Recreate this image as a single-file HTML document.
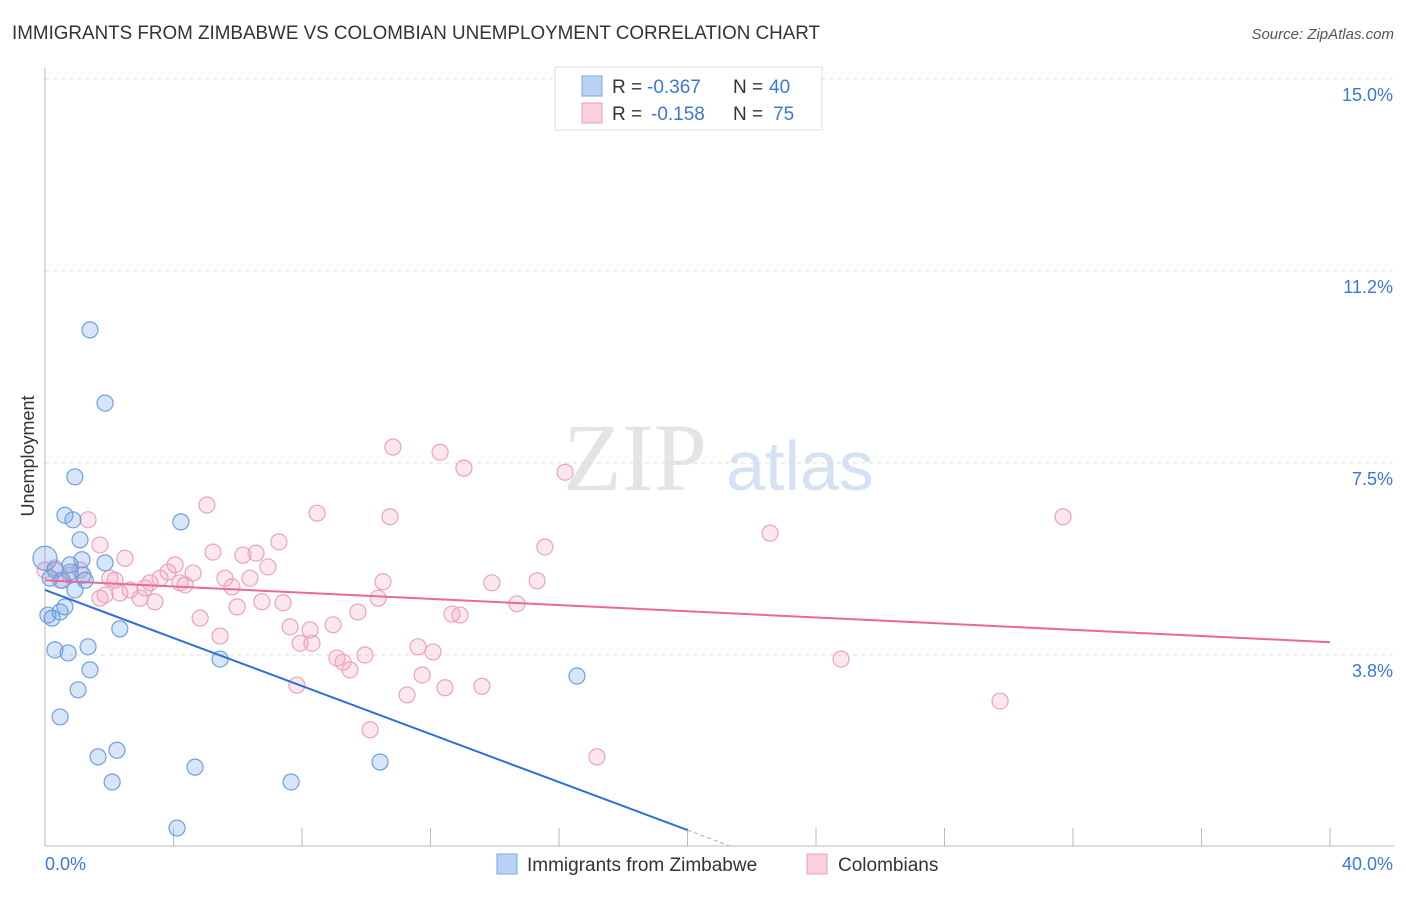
<!DOCTYPE html>
<html><head><meta charset="utf-8"><style>
body{margin:0;background:#fff;font-family:"Liberation Sans",sans-serif}
svg text{font-family:"Liberation Sans",sans-serif}
</style></head><body>
<svg width="1406" height="892" id="c">
<text x="12" y="39" font-size="19" fill="#333" textLength="808" lengthAdjust="spacingAndGlyphs">IMMIGRANTS FROM ZIMBABWE VS COLOMBIAN UNEMPLOYMENT CORRELATION CHART</text>
<text x="1394" y="39" font-size="15" fill="#555" font-style="italic" text-anchor="end">Source: ZipAtlas.com</text>
<text x="635" y="490" font-size="96" fill="#e4e4e4" text-anchor="middle" style="font-family:'Liberation Serif',serif">ZIP</text>
<text x="800" y="490" font-size="70" fill="#d4e2f4" text-anchor="middle">atlas</text>
<text x="34" y="456" font-size="18" fill="#333" text-anchor="middle" transform="rotate(-90 34 456)">Unemployment</text>
<g id="grid"></g><g id="marks"></g>
<g>
<rect x="555" y="67" width="267" height="63" fill="#fff" stroke="#ddd"/>
<rect x="582" y="76" width="20" height="20" fill="#b9d3f5" stroke="#7aa6e0"/>
<rect x="582" y="103" width="20" height="20" fill="#fbd0dd" stroke="#eaa0b8"/>
<text x="612" y="93" font-size="19" fill="#333">R =</text>
<text x="647" y="93" font-size="19" fill="#3a78d8">-0.367</text>
<text x="733" y="93" font-size="19" fill="#333">N =</text>
<text x="769" y="93" font-size="19" fill="#3a78d8">40</text>
<text x="612" y="120" font-size="19" fill="#333">R =</text>
<text x="651" y="120" font-size="19" fill="#3a78d8">-0.158</text>
<text x="733" y="120" font-size="19" fill="#333">N =</text>
<text x="773" y="120" font-size="19" fill="#3a78d8">75</text>
</g>
<g>
<rect x="497" y="854" width="20" height="20" fill="#b9d3f5" stroke="#7aa6e0"/>
<text x="527" y="871" font-size="19" fill="#333">Immigrants from Zimbabwe</text>
<rect x="807" y="854" width="20" height="20" fill="#fbd0dd" stroke="#eaa0b8"/>
<text x="838" y="871" font-size="19" fill="#333">Colombians</text>
</g>
</svg>
<script>
const yTicks=[3.75,7.5,11.25,15];
const yTickLabels=["3.8%","7.5%","11.2%","15.0%"];
const xTicks=[0,4,8,12,16,20,24,28,32,36,40];
const blueX=[0,0.16,0.31,0.09,0.22,0.47,0.62,0.31,0.72,1.40,1.87,0.93,0.62,0.87,1.09,1.15,0.78,1.87,1.25,0.93,1.34,1.40,2.33,1.03,0.47,1.65,2.24,2.09,4.23,5.45,4.67,4.11,7.66,10.43,16.56,0.53,0.78,1.18];
const blueY=[5.64,5.25,5.41,4.53,4.47,4.59,4.69,3.85,3.79,10.10,8.67,7.23,6.48,6.39,6.00,5.61,5.51,5.55,5.21,5.02,3.91,3.46,4.26,3.07,2.54,1.76,1.89,1.27,6.35,3.67,1.56,0.37,1.27,1.66,3.34,5.21,5.37,5.31];
const pinkX=[0,.31,.47,.78,1.09,1.34,1.71,2.02,2.49,1.87,2.33,2.65,2.96,3.11,3.27,3.42,3.58,3.83,4.05,4.20,4.36,4.61,4.83,5.04,5.23,5.45,5.60,5.82,5.98,6.16,6.38,6.57,6.75,6.94,7.28,7.41,7.63,7.84,7.94,8.25,8.31,8.47,8.97,9.09,9.28,9.49,9.74,9.96,10.12,10.37,10.52,10.74,10.83,11.27,11.61,11.74,12.08,12.30,12.45,12.67,12.92,13.04,13.60,13.91,14.69,15.32,15.56,16.19,17.18,22.57,24.78,29.73,31.69,1.71,2.18];
const pinkY=[5.41,5.45,5.21,5.31,5.41,6.39,5.90,5.25,5.64,4.92,4.96,5.02,4.86,5.06,5.16,4.79,5.25,5.37,5.51,5.16,5.12,5.35,4.47,6.68,5.76,4.12,5.25,5.08,4.69,5.70,5.25,5.74,4.79,5.47,5.96,4.77,4.30,3.16,3.98,4.24,3.98,6.52,4.34,3.69,3.61,3.46,4.59,3.75,2.29,4.86,5.18,6.45,7.81,2.97,3.91,3.36,3.81,7.71,3.11,4.55,4.53,7.40,3.14,5.16,4.75,5.20,5.86,7.32,1.76,6.13,3.67,2.85,6.45,4.86,5.21];
const blueTrend=[5.02,-0.2345]; const pinkTrend=[5.21,-0.03025];
const X=v=>45+v*32.125, Y=v=>847-v*51.2;
const NS="http://www.w3.org/2000/svg";
function mk(t,a,p){const e=document.createElementNS(NS,t);for(const k in a)e.setAttribute(k,a[k]);p.appendChild(e);return e;}
const g=document.getElementById('grid'), m=document.getElementById('marks');
yTicks.forEach((t,i)=>{const l=mk('line',{x1:45,x2:1394,y1:Y(t),y2:Y(t),stroke:'#ddd','stroke-dasharray':'4,4'},g);


const tx=mk('text',{x:1393,y:Y(t)+22,'font-size':18,fill:'#3a78d8','text-anchor':'end'},g);tx.textContent=yTickLabels[i];

});
const ax=mk('line',{x1:45,x2:45,y1:68,y2:846,stroke:'#bbb'},g);


const xa=mk('line',{x1:45,x2:1394,y1:846,y2:846,stroke:'#bbb'},g);


xTicks.forEach(t=>{const l=mk('line',{x1:X(t),x2:X(t),y1:828,y2:846,stroke:'#bbb'},g);

});
[["0.0%",45,'start'],["40.0%",1393,'end']].forEach(a=>{const t=mk('text',{x:a[1],y:870,'font-size':18,fill:'#3a78d8','text-anchor':a[2]},g);t.textContent=a[0];

});
pinkX.forEach((x,i)=>{const c=mk('circle',{cx:X(x),cy:Y(pinkY[i]),r:8,fill:'rgba(245,160,190,0.25)',stroke:'#eba3bc','stroke-width':1.2},m);

});
blueX.forEach((x,i)=>{const c=mk('circle',{cx:X(x),cy:Y(blueY[i]),r:i==0?12:8,fill:'rgba(110,160,230,0.28)',stroke:'#6f9fe0','stroke-width':1.2},m);

});
const bl=mk('line',{x1:X(0),y1:Y(blueTrend[0]),x2:X(20),y2:Y(blueTrend[0]+blueTrend[1]*20),stroke:'#2f6fd8','stroke-width':2},m);


const bd=mk('line',{x1:X(20),y1:Y(blueTrend[0]+blueTrend[1]*20),x2:X(21.3),y2:Y(blueTrend[0]+blueTrend[1]*21.3),stroke:'#aaa','stroke-width':1,'stroke-dasharray':'4,3'},m);


const pl=mk('line',{x1:X(0),y1:Y(pinkTrend[0]),x2:X(40),y2:Y(pinkTrend[0]+pinkTrend[1]*40),stroke:'#e8699a','stroke-width':2},m);


</script>
</body></html>
